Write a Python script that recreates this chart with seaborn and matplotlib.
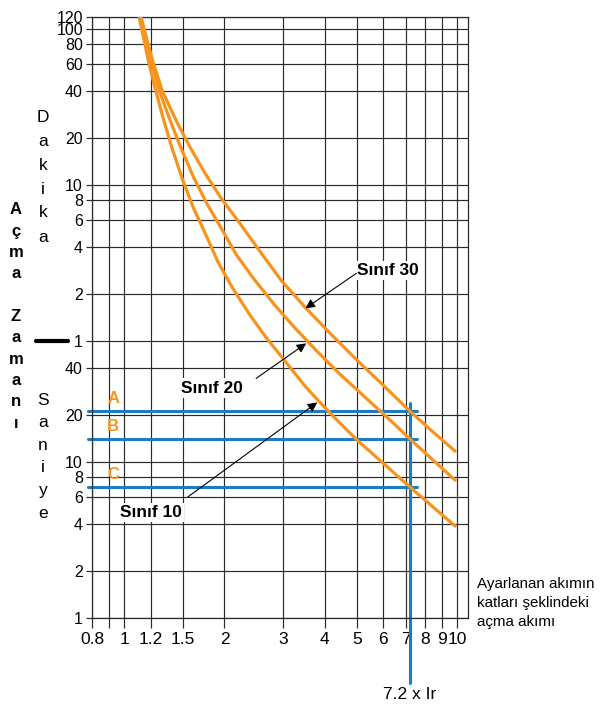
"""
Trip curves (Sınıf 10 / 20 / 30) on a log-log time vs current-multiple grid.
"""

import matplotlib
matplotlib.use("Agg")
import matplotlib.pyplot as plt
import pandas as pd
import seaborn as sns
from matplotlib.lines import Line2D
from matplotlib.ticker import NullLocator

# ─── Data (x = multiple of Ir, t = trip time in seconds) ──────────────────────

class10_x = [1.109, 1.148, 1.181, 1.239, 1.310, 1.393, 1.493, 1.612, 1.751, 1.915, 2.110,
             2.357, 2.651, 3.044, 3.496, 3.798, 4.302, 5.009, 5.997, 7.224, 8.471, 9.863]
class10_t = [7122, 5072, 3775, 2497, 1604, 1030, 661, 431, 294, 191.5, 132.4,
             91.5, 64.2, 44.4, 30.7, 25.3, 19.15, 13.84, 9.85, 6.91, 5.15, 3.89]

class20_x = [1.117, 1.164, 1.205, 1.274, 1.374, 1.483, 1.612, 1.763, 1.942, 2.170,
             2.457, 2.821, 3.263, 3.772, 4.453, 5.293, 6.294, 7.224, 8.412, 9.863]
class20_t = [7122, 5072, 3775, 2424, 1557, 1030, 681, 464, 326, 215,
             149, 103, 72.3, 52.2, 36.6, 26.1, 18.6, 14.04, 10.45, 7.67]

class30_x = [1.125, 1.172, 1.222, 1.300, 1.432, 1.579, 1.751, 1.956, 2.215,
             2.544, 2.960, 3.496, 4.156, 4.975, 5.997, 7.224, 8.412, 9.863]
class30_t = [7122, 5072, 3665, 2424, 1557, 1045, 712, 493, 346,
             229, 147, 98.5, 67.1, 45.7, 31.2, 21.2, 15.8, 11.77]

x_ticks  = [0.8, 0.9, 1, 1.2, 1.5, 2, 3, 4, 5, 6, 7, 8, 9, 10]
x_labels = ["0.8", "", "1", "1.2", "1.5", "2", "3", "4", "5", "6", "7", "8", "9", "10"]

# seconds part, then minutes part (converted to seconds)
y_ticks  = [1, 2, 4, 6, 8, 10, 20, 40,
            60, 120, 240, 360, 480, 600, 1200, 2400, 3600, 4800, 6000, 7200]
y_labels = ["1", "2", "4", "6", "8", "10", "20", "40",
            "1", "2", "4", "6", "8", "10", "20", "40", "60", "80", "100", "120"]

point_names = ["A", "B", "C"]
point_times = [21.2, 14.0, 6.9]
ir_multiple = 7.2

ORANGE = "#F7941D"
BLUE   = "#1B7CC3"
GRID   = "#2a2a2a"

# ─── Figure ───────────────────────────────────────────────────────────────────

sns.set_style("ticks")
plt.rcParams["font.family"] = ["Liberation Sans", "DejaVu Sans"]
plt.rcParams["text.color"] = "black"

fig = plt.figure(figsize=(6.0, 7.04), dpi=100)
ax = fig.add_axes([92 / 600, 1 - 618 / 704, 376 / 600, 601 / 704])

curves = pd.concat([
    pd.DataFrame({"x": class10_x, "t": class10_t, "sinif": "Sınıf 10"}),
    pd.DataFrame({"x": class20_x, "t": class20_t, "sinif": "Sınıf 20"}),
    pd.DataFrame({"x": class30_x, "t": class30_t, "sinif": "Sınıf 30"}),
])
sns.lineplot(data=curves, x="x", y="t", hue="sinif",
             palette=[ORANGE] * 3, estimator=None, sort=False,
             lw=2.3, legend=False, ax=ax, zorder=3)

ax.set_xscale("log")
ax.set_yscale("log")
ax.set_xlim(0.8, 10.78)
ax.set_ylim(1, 7200)
ax.set_xticks(x_ticks, x_labels)
ax.set_yticks(y_ticks, y_labels)
ax.xaxis.set_minor_locator(NullLocator())
ax.yaxis.set_minor_locator(NullLocator())
ax.set_xlabel("")
ax.set_ylabel("")

ax.set_axisbelow(True)
ax.grid(True, color=GRID, lw=0.85)
ax.tick_params(axis="x", length=7.5, width=0.85, color=GRID, pad=2.5,
               labelsize=12.5, labelcolor="black")
ax.tick_params(axis="y", length=4.5, width=0.85, color=GRID, pad=2,
               labelsize=11.5, labelcolor="black")
for sp in ax.spines.values():
    sp.set_color(GRID)
    sp.set_linewidth(0.9)

# ─── Blue A/B/C guide lines ───────────────────────────────────────────────────

for name, t in zip(point_names, point_times):
    ax.plot([0.78, 7.59], [t, t], color=BLUE, lw=2.2, clip_on=False, zorder=2.5)
    ax.text(0.927, t * 1.21, name, color=ORANGE, fontsize=12, fontweight="bold",
            ha="center", va="center")
ax.plot([ir_multiple, ir_multiple], [23.9, 0.383], color=BLUE, lw=2.2,
        clip_on=False, zorder=2.5)
ax.text(ir_multiple, 0.321, "7.2 x Ir", fontsize=12.5, ha="center", va="center")

# ─── Class labels + arrows ────────────────────────────────────────────────────

box = dict(fc="white", ec="none", pad=1.5)
arrow = dict(arrowstyle="-|>", color="black", lw=0.8, mutation_scale=14,
             shrinkA=0, shrinkB=0)

ax.text(6.2, 170, "Sınıf 30", fontsize=12.5, fontweight="bold",
        ha="center", va="center", bbox=box, zorder=4)
ax.annotate("", xy=(3.50, 97.1), xytext=(4.98, 163), arrowprops=arrow, zorder=4)

ax.text(1.84, 29.9, "Sınıf 20", fontsize=12.5, fontweight="bold",
        ha="center", va="center", bbox=box, zorder=4)
ax.annotate("", xy=(3.52, 57.9), xytext=(2.49, 34.5), arrowprops=arrow, zorder=4)

ax.text(1.20, 4.78, "Sınıf 10", fontsize=12.5, fontweight="bold",
        ha="center", va="center", bbox=box, zorder=4)
ax.annotate("", xy=(3.80, 24.2), xytext=(1.55, 5.97), arrowprops=arrow, zorder=4)

# ─── Side texts ───────────────────────────────────────────────────────────────

def column_text(letters, x_px, y0_px, step_px, **kw):
    for i, ch in enumerate(letters):
        if ch.strip():
            fig.text(x_px / 600, 1 - (y0_px + i * step_px) / 704, ch,
                     ha="center", va="center", **kw)

column_text("Dakika", 43, 117, 24, fontsize=12.5)
column_text("Saniye", 43, 400, 22.6, fontsize=12.5)
column_text("Açma Zamanı", 16, 210, 21.3, fontsize=12, fontweight="bold")

fig.add_artist(Line2D([36 / 600, 68 / 600], [1 - 341 / 704] * 2,
                      color="black", lw=3))

fig.text(477 / 600, 1 - 603 / 704,
         "Ayarlanan akımın\nkatları şeklindeki\naçma akımı",
         fontsize=10.9, ha="left", va="center", linespacing=1.45)

fig.savefig("out.png", dpi=100)
plt.close(fig)
